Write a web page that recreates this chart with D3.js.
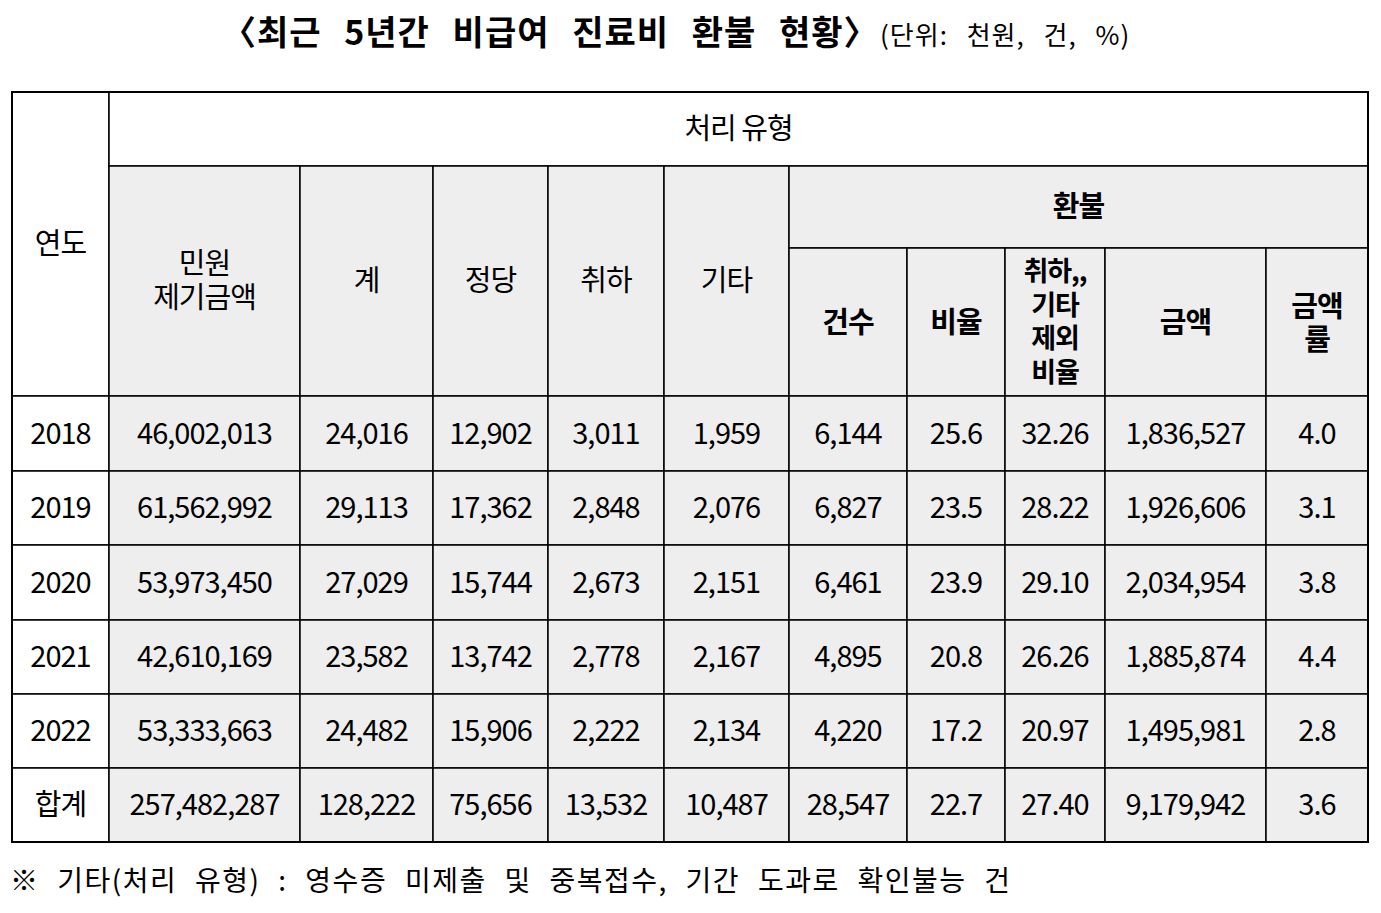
<!DOCTYPE html><html><head><meta charset="utf-8">
<script src="https://cdn.jsdelivr.net/npm/d3@7"></script>
<style>body{margin:0;background:#fff}</style></head><body>
<svg id="c" width="1381" height="913"></svg>
<script>
const years=["2018","2019","2020","2021","2022","합계"];
const complaintAmount=["46,002,013","61,562,992","53,973,450","42,610,169","53,333,663","257,482,287"];
const total=["24,016","29,113","27,029","23,582","24,482","128,222"];
const justified=["12,902","17,362","15,744","13,742","15,906","75,656"];
const withdrawn=["3,011","2,848","2,673","2,778","2,222","13,532"];
const other=["1,959","2,076","2,151","2,167","2,134","10,487"];
const refundCount=["6,144","6,827","6,461","4,895","4,220","28,547"];
const refundRatio=["25.6","23.5","23.9","20.8","17.2","22.7"];
const ratioExcl=["32.26","28.22","29.10","26.26","20.97","27.40"];
const refundAmount=["1,836,527","1,926,606","2,034,954","1,885,874","1,495,981","9,179,942"];
const amountRate=["4.0","3.1","3.8","4.4","2.8","3.6"];
const cols=[years,complaintAmount,total,justified,withdrawn,other,refundCount,refundRatio,ratioExcl,refundAmount,amountRate];

const svg=d3.select("#c");
const F="'Noto Sans CJK KR','Noto Sans',sans-serif";
const xb=[12,109,300,433,548,664,789,907,1005,1105,1266,1368];
const yb=[396,471,545,620,694,768,842];
const gray="#eeeeee";
function cell(x0,x1,y0,y1,fill,lines,bold,lh,dy,fs){
  svg.append("rect").attr("x",x0).attr("y",y0).attr("width",x1-x0).attr("height",y1-y0)
    .attr("fill",fill).attr("stroke","#000").attr("stroke-width",1.5);
  const n=lines.length, cy=(y0+y1)/2+(dy||0);
  lines.forEach((t,i)=>svg.append("text").attr("x",(x0+x1)/2).attr("y",cy+(i-(n-1)/2)*lh)
    .attr("text-anchor","middle").attr("dominant-baseline","central")
    .attr("font-family",F).attr("font-size",fs||29).attr("font-weight",bold?"bold":"normal")
    .attr("letter-spacing",-1).text(t));
}
cell(xb[0],xb[1],92,396,"#fff",["연도"],false,34,-3);
cell(xb[1],xb[11],92,166,"#fff",["처리 유형"],false,34,-3);
const sub=[["민원","제기금액"],["계"],["정당"],["취하"],["기타"]];
sub.forEach((s,i)=>cell(xb[i+1],xb[i+2],166,396,gray,s,false,34,-3));
cell(xb[6],xb[11],166,248,gray,["환불"],true,34,-3);
const sub2=[["건수"],["비율"],["취하,,","기타","제외","비율"],["금액"],["금액","률"]];
sub2.forEach((s,i)=>cell(xb[i+6],xb[i+7],248,396,gray,s,true,i==2?33.5:33,-2,i==2?27:29));
years.forEach((y,r)=>cols.forEach((c,j)=>cell(xb[j],xb[j+1],yb[r],yb[r+1],j==0?"#fff":gray,[c[r]],false,34,-3)));
svg.append("rect").attr("x",12).attr("y",92).attr("width",1356).attr("height",750).attr("fill","none").attr("stroke","#000").attr("stroke-width",2);
const t=svg.append("text").attr("y",45).attr("font-family",F);
t.append("tspan").attr("x",222).attr("font-size",34).attr("font-weight","bold").attr("word-spacing",14).attr("letter-spacing",1).text("〈최근 5년간 비급여 진료비 환불 현황〉");
svg.append("text").attr("x",880).attr("y",45).attr("font-family",F).attr("font-size",26).attr("word-spacing",12).attr("letter-spacing",1).text("(단위: 천원, 건, %)");
svg.append("text").attr("x",10).attr("y",891).attr("font-family",F).attr("font-size",28).attr("word-spacing",10).attr("letter-spacing",1.5)
  .text("※ 기타(처리 유형) : 영수증 미제출 및 중복접수, 기간 도과로 확인불능 건");
</script></body></html>
